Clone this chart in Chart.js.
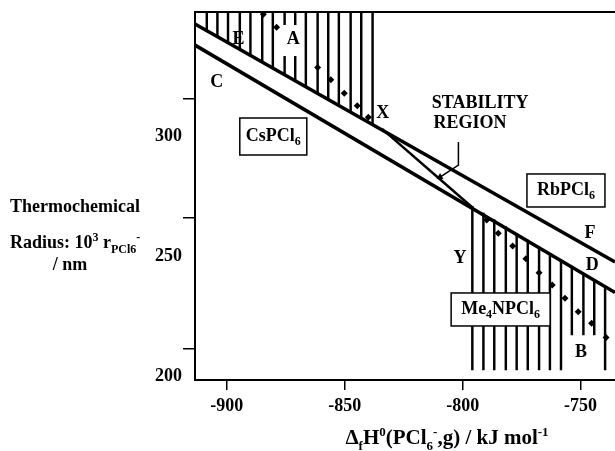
<!DOCTYPE html>
<html lang="en">
<head>
<meta charset="UTF-8">
<title>PCl6 stability chart</title>
<script src="https://cdn.jsdelivr.net/npm/chart.js"></script>
<style>
  body { margin: 0; background: #fff; }
</style>
</head>
<body>
<canvas id="myChart" width="615" height="451"></canvas>
<script>
// axis ranges and ticks
const X_MIN = -913.5, X_MAX = -735.4;
const Y_MIN = 198.3, Y_MAX = 351.7;
const xTickValues = [-900, -850, -800, -750];
const yTickValues = [200, 250, 300];
// the tick marks in the original do not sit on the labels
const yTickMarkValues = [315.4, 265.8, 211.3];

// boundary lines
const upperLineX = [-913.5, -735.4];
const upperLineY = [346.7, 247.5];
const lowerLineX = [-913.5, -735.4];
const lowerLineY = [337.9, 234.8];
const diagonalX = [-834.2, -795.6];
const diagonalY = [303.0, 270.0];

// hatching of region A (top left) and B (bottom right)
const hatchAX    = [-908.5, -904, -899.5, -894.5, -890, -885, -880.5, -875.5, -875.5, -871, -871, -866.5, -861.5, -857, -852.5, -847.5, -843, -838.2];
const hatchALow  = [343.9, 341.3, 338.8, 336.2, 333.5, 330.9, 328.2, 325.6, 346.4, 323.0, 346.4, 320.5, 317.7, 315.2, 312.6, 309.9, 307.3, 304.7];
const hatchAHigh = [351.7, 351.7, 351.7, 351.7, 351.7, 351.7, 351.7, 333.2, 351.7, 333.2, 351.7, 351.7, 351.7, 351.7, 351.7, 351.7, 351.7, 351.7];
const hatchBX    = [-795.9, -791.2, -786.6, -781.7, -777.1, -772.4, -767.6, -763.0, -758.3, -753.7, -748.8, -744.2, -739.6];
const hatchBLow  = [202.5, 202.5, 202.5, 202.5, 202.5, 202.5, 202.5, 202.5, 202.5, 217.1, 217.1, 217.1, 202.5];
const hatchBHigh = [270.7, 267.9, 265.1, 262.2, 259.4, 256.6, 253.8, 251.0, 248.2, 245.5, 242.6, 239.8, 237.1];

// diamond points
const diamondAX = [-884.5, -878.9, -861.5, -855.9, -850.2, -844.7, -840.0];
const diamondAY = [350.8, 345.3, 328.6, 323.5, 317.8, 312.6, 307.8];
const diamondBX = [-789.8, -784.9, -778.8, -773.2, -767.6, -762.0, -756.6, -751.0, -745.3, -739.2];
const diamondBY = [265.0, 259.5, 254.2, 248.8, 243.0, 237.9, 232.4, 226.8, 222.0, 216.0];

// "stability region" pointer
const arrowX = [-801.8, -801.8, -809.6];
const arrowY = [297.5, 287.9, 282.9];

// in-plot texts, anchored in data units
const letterLabels = [
  { text: 'E', x: -895.1, y: 340.4 },
  { text: 'A', x: -871.8, y: 340.4 },
  { text: 'C', x: -904.3, y: 322.5 },
  { text: 'X', x: -833.9, y: 309.6 },
  { text: 'Y', x: -801.1, y: 249.2 },
  { text: 'F', x: -746.0, y: 259.6 },
  { text: 'D', x: -745.1, y: 246.3 },
  { text: 'B', x: -749.8, y: 210.0 },
  { text: 'STABILITY', x: -792.6, y: 313.5 },
  { text: 'REGION', x: -796.9, y: 305.2 }
];
const boxLabels = [
  { parts: [['CsPCl', ''], ['6', 'sub']], x: -880.3, y: 299.8, w: 67, h: 37 },
  { parts: [['RbPCl', ''], ['6', 'sub']], x: -756.2, y: 277.3, w: 78, h: 33 },
  { parts: [['Me', ''], ['4', 'sub'], ['NPCl', ''], ['6', 'sub']], x: -783.9, y: 227.7, w: 99, h: 33 }
];

const FAMILY = '"Liberation Serif", "Times New Roman", serif';
const FONT_SIZE = 18;

const pts = (xs, ys) => xs.map((x, i) => ({ x: x, y: ys[i] }));
const bars = (xs, lo, hi) => xs.map((x, i) => ({ x: x, y: [lo[i], hi[i]] }));

function fontFor(kind, size) {
  const s = kind ? Math.round(size * 0.64) : size;
  return 'bold ' + s + 'px ' + FAMILY;
}
function richWidth(c, parts, size) {
  let w = 0;
  parts.forEach(p => { c.font = fontFor(p[1], size); w += c.measureText(p[0]).width; });
  return w;
}
function drawRich(c, parts, x, y, size, align) {
  const w = richWidth(c, parts, size);
  let cx = align === 'center' ? x - w / 2 : (align === 'right' ? x - w : x);
  c.textAlign = 'left';
  parts.forEach(p => {
    c.font = fontFor(p[1], size);
    let dy = 0;
    if (p[1] === 'sub') dy = size * 0.3;
    if (p[1] === 'sup') dy = -size * 0.38;
    c.fillText(p[0], cx, y + dy);
    cx += c.measureText(p[0]).width;
  });
}

const textPlugin = {
  id: 'textPlugin',
  afterDatasetsDraw(chart) {
    const c = chart.ctx;
    const xs = chart.scales.x, ys = chart.scales.y;
    c.save();
    c.fillStyle = '#000';
    c.textBaseline = 'middle';
    letterLabels.forEach(l => {
      c.font = fontFor('', FONT_SIZE);
      c.textAlign = 'center';
      c.fillText(l.text, xs.getPixelForValue(l.x), ys.getPixelForValue(l.y));
    });
    boxLabels.forEach(b => {
      const px = xs.getPixelForValue(b.x), py = ys.getPixelForValue(b.y);
      c.fillStyle = '#fff';
      c.fillRect(px - b.w / 2, py - b.h / 2, b.w, b.h);
      c.strokeStyle = '#000';
      c.lineWidth = 1.5;
      c.strokeRect(px - b.w / 2, py - b.h / 2, b.w, b.h);
      c.fillStyle = '#000';
      drawRich(c, b.parts, px, py, FONT_SIZE, 'center');
    });
    c.restore();
  },
  afterDraw(chart) {
    const c = chart.ctx;
    c.save();
    c.fillStyle = '#000';
    c.textBaseline = 'alphabetic';
    // y axis title
    drawRich(c, [['Thermochemical', '']], 75, 212, FONT_SIZE, 'center');
    drawRich(c, [['Radius: 10', ''], ['3', 'sup'], [' r', ''], ['PCl6', 'sub'], ['-', 'sup']], 10, 248, FONT_SIZE, 'left');
    drawRich(c, [['/ nm', '']], 70, 270, FONT_SIZE, 'center');
    // x axis title
    drawRich(c, [['\u0394', ''], ['f', 'sub'], ['H', ''], ['0', 'sup'], ['(PCl', ''], ['6', 'sub'], ['-', 'sup'],
                 [',g) / kJ mol', ''], ['-1', 'sup']], 447, 444, 21, 'center');
    c.restore();
  }
};

const tickFont = { family: FAMILY, size: FONT_SIZE, weight: 'bold' };
const noPadding = s => { s.paddingLeft = 0; s.paddingRight = 0; };

const data = {
  datasets: [
    { type: 'line', data: pts(upperLineX, upperLineY), borderColor: '#000', borderWidth: 3.5, pointRadius: 0, order: 1 },
    { type: 'line', data: pts(lowerLineX, lowerLineY), borderColor: '#000', borderWidth: 3.5, pointRadius: 0, order: 1 },
    { type: 'line', data: pts(diagonalX, diagonalY), borderColor: '#000', borderWidth: 2.5, pointRadius: 0, order: 1 },
    { type: 'line', data: pts(arrowX, arrowY), borderColor: '#000', borderWidth: 1.5,
      pointRadius: [0, 0, 4], pointStyle: 'triangle', pointRotation: 241,
      pointBackgroundColor: '#000', pointBorderWidth: 0, order: 1 },
    { type: 'line', data: pts(diamondAX, diamondAY), showLine: false, pointStyle: 'rectRot', pointRadius: 3.5,
      pointBackgroundColor: '#000', pointBorderWidth: 0, order: 2 },
    { type: 'line', data: pts(diamondBX, diamondBY), showLine: false, pointStyle: 'rectRot', pointRadius: 3.5,
      pointBackgroundColor: '#000', pointBorderWidth: 0, order: 2 },
    { type: 'bar', data: bars(hatchAX, hatchALow, hatchAHigh), backgroundColor: '#000', borderWidth: 0,
      barThickness: 1.8, grouped: false, order: 3 },
    { type: 'bar', data: bars(hatchBX, hatchBLow, hatchBHigh), backgroundColor: '#000', borderWidth: 0,
      barThickness: 1.8, grouped: false, order: 3 }
  ]
};

const config = {
  type: 'line',
  data: data,
  options: {
    responsive: false,
    animation: false,
    layout: { padding: 0, autoPadding: false },
    plugins: { legend: { display: false }, tooltip: { enabled: false } },
    scales: {
      x: {
        type: 'linear', position: 'bottom', min: X_MIN, max: X_MAX, offset: false,
        afterBuildTicks: s => { s.ticks = xTickValues.map(v => ({ value: v })); },
        ticks: { font: tickFont, color: '#000', padding: 6, maxRotation: 0 },
        grid: { offset: false, drawOnChartArea: false, drawTicks: true, tickLength: 10, color: '#000', lineWidth: 1.5 },
        border: { color: '#000', width: 2 },
        afterFit: s => { s.height = 71; noPadding(s); }
      },
      xTop: {
        type: 'linear', position: 'top', min: X_MIN, max: X_MAX, offset: false,
        ticks: { display: false },
        grid: { offset: false, display: false, drawTicks: false },
        border: { display: true, color: '#000', width: 2 },
        afterFit: s => { s.height = 12; noPadding(s); }
      },
      yMarks: {
        type: 'linear', position: 'left', weight: 0, min: Y_MIN, max: Y_MAX,
        afterBuildTicks: s => { s.ticks = yTickMarkValues.map(v => ({ value: v })); },
        ticks: { callback: () => '', padding: 0 },
        grid: { drawOnChartArea: false, drawTicks: true, tickLength: 12, color: '#000', lineWidth: 1.5 },
        border: { color: '#000', width: 2 },
        afterFit: s => { s.width = 12; }
      },
      y: {
        type: 'linear', position: 'left', weight: 1, min: Y_MIN, max: Y_MAX,
        afterBuildTicks: s => { s.ticks = yTickValues.map(v => ({ value: v })); },
        ticks: { font: tickFont, color: '#000', padding: 1 },
        grid: { display: false, drawTicks: false, tickLength: 0 },
        border: { display: false },
        afterFit: s => { s.width = 183; }
      }
    }
  },
  plugins: [textPlugin]
};

const ctx = document.getElementById('myChart').getContext('2d');
const myChart = new Chart(ctx, config);
</script>
</body>
</html>
